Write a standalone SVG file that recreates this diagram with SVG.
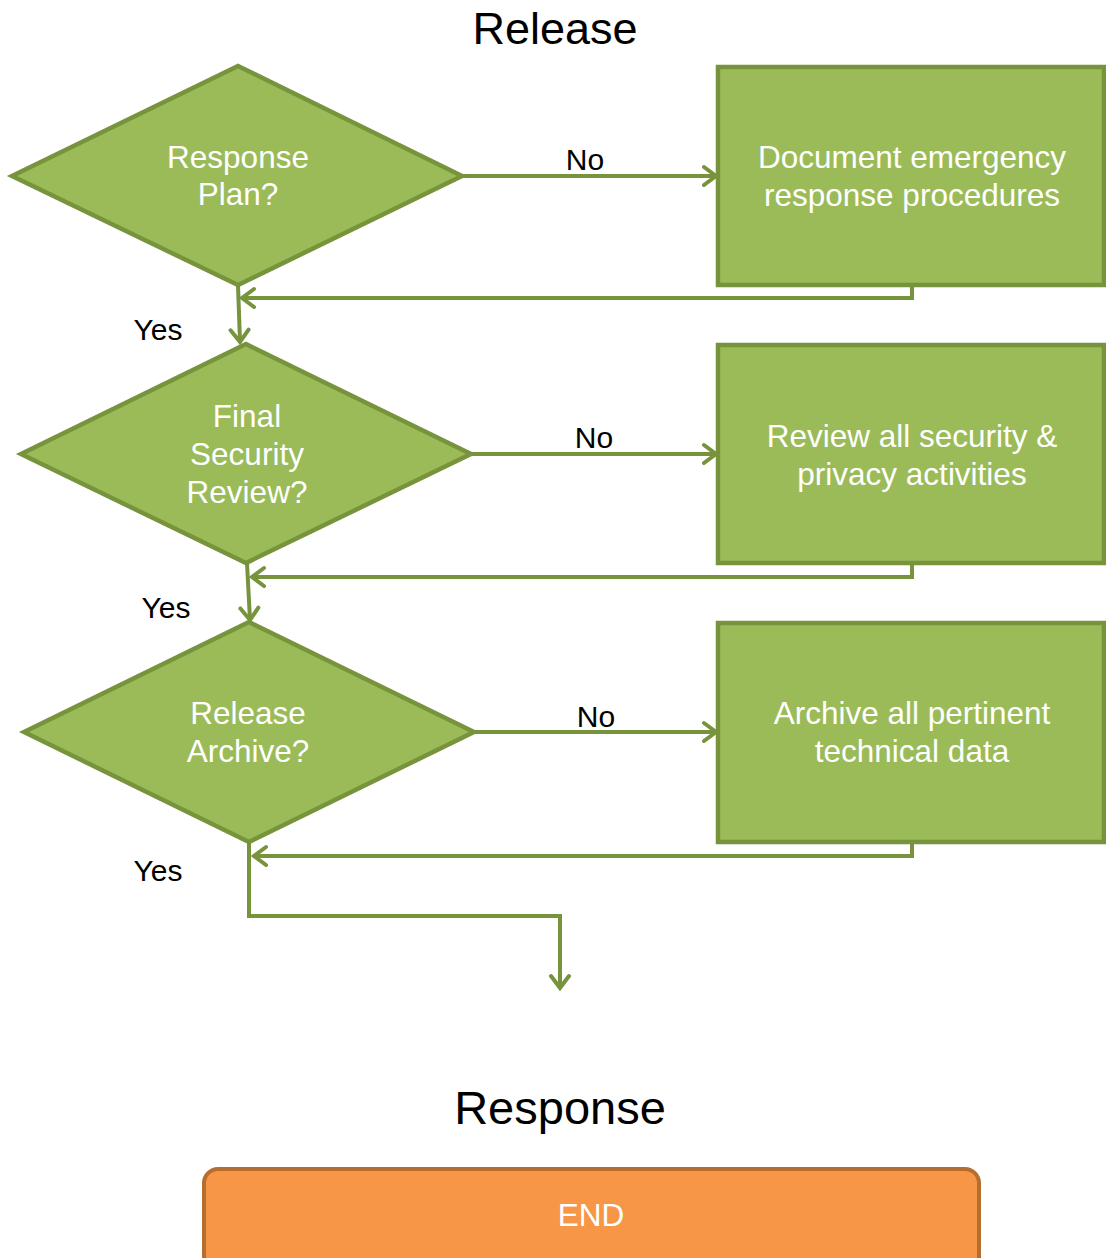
<svg xmlns="http://www.w3.org/2000/svg" width="1106" height="1258" viewBox="0 0 1106 1258">
  <style>
    .shape { fill: #9BBB59; stroke: #77933C; stroke-width: 4.5; stroke-linejoin: miter; }
    .node-text { font-family: "Liberation Sans", Arial, sans-serif; font-size: 31.5px; fill: #FFFFFF; text-anchor: middle; }
    .label { font-family: "Liberation Sans", Arial, sans-serif; font-size: 30px; fill: #000000; text-anchor: middle; }
    .title { font-family: "Liberation Sans", Arial, sans-serif; font-size: 45px; fill: #000000; text-anchor: middle; }
    .conn { fill: none; stroke: #77933C; stroke-width: 4; stroke-linejoin: miter; }
    .end-box { fill: #F79646; stroke: #B66D31; stroke-width: 4; }
  </style>
  <defs>
    <marker id="arrow" markerUnits="userSpaceOnUse" viewBox="0 0 20 24" refX="17" refY="12" markerWidth="20" markerHeight="24" orient="auto">
      <path d="M5,3 L17,12 L5,21" fill="none" stroke="#77933C" stroke-width="4" stroke-linecap="round" stroke-linejoin="miter"/>
    </marker>
  </defs>

  <rect x="0" y="0" width="1106" height="1258" fill="#FFFFFF"/>

  <!-- section titles -->
  <text class="title" x="555" y="44">Release</text>
  <text class="title" x="560" y="1124" style="font-size:47px">Response</text>

  <!-- connectors -->
  <g id="connectors">
    <!-- No branches -->
    <line class="conn" x1="462" y1="176" x2="716" y2="176" marker-end="url(#arrow)"/>
    <line class="conn" x1="471" y1="454" x2="716" y2="454" marker-end="url(#arrow)"/>
    <line class="conn" x1="474" y1="732" x2="716" y2="732" marker-end="url(#arrow)"/>
    <!-- returns from action boxes -->
    <path class="conn" d="M912,286 V298 H242" marker-end="url(#arrow)"/>
    <path class="conn" d="M912,564 V577 H252" marker-end="url(#arrow)"/>
    <path class="conn" d="M912,843 V856 H254" marker-end="url(#arrow)"/>
    <!-- Yes branches -->
    <line class="conn" x1="238" y1="285" x2="240" y2="342" marker-end="url(#arrow)"/>
    <line class="conn" x1="247" y1="563" x2="250" y2="620" marker-end="url(#arrow)"/>
    <path class="conn" d="M249,842 V916 H560 V988" marker-end="url(#arrow)"/>

    <text class="label" x="585" y="170">No</text>
    <text class="label" x="594" y="448">No</text>
    <text class="label" x="596" y="727">No</text>
    <text class="label" x="158" y="340">Yes</text>
    <text class="label" x="166" y="618">Yes</text>
    <text class="label" x="158" y="881">Yes</text>
  </g>

  <!-- decision: response plan -->
  <g id="decision-response-plan">
    <polygon class="shape" points="12,176 238,66 462,176 238,285"/>
    <text class="node-text" x="238" y="168">Response</text>
    <text class="node-text" x="238" y="205">Plan?</text>
  </g>

  <!-- action: document procedures -->
  <g id="action-document-procedures">
    <rect class="shape" x="718" y="67" width="386" height="218"/>
    <text class="node-text" x="912" y="168">Document emergency</text>
    <text class="node-text" x="912" y="206">response procedures</text>
  </g>

  <!-- decision: final security review -->
  <g id="decision-final-security-review">
    <polygon class="shape" points="21,454 246,344 471,454 246,563"/>
    <text class="node-text" x="247" y="427">Final</text>
    <text class="node-text" x="247" y="465">Security</text>
    <text class="node-text" x="247" y="503">Review?</text>
  </g>

  <!-- action: review activities -->
  <g id="action-review-activities">
    <rect class="shape" x="718" y="345" width="386" height="218"/>
    <text class="node-text" x="912" y="447">Review all security &amp;</text>
    <text class="node-text" x="912" y="485">privacy activities</text>
  </g>

  <!-- decision: release archive -->
  <g id="decision-release-archive">
    <polygon class="shape" points="24,732 249,622 474,732 249,842"/>
    <text class="node-text" x="248" y="724">Release</text>
    <text class="node-text" x="248" y="762">Archive?</text>
  </g>

  <!-- action: archive technical data -->
  <g id="action-archive-data">
    <rect class="shape" x="718" y="623" width="386" height="219"/>
    <text class="node-text" x="912" y="724">Archive all pertinent</text>
    <text class="node-text" x="912" y="762">technical data</text>
  </g>

  <!-- terminator -->
  <g id="end">
    <rect class="end-box" x="204" y="1169" width="775" height="110" rx="14" ry="14"/>
    <text class="node-text" x="591" y="1226">END</text>
  </g>
</svg>
